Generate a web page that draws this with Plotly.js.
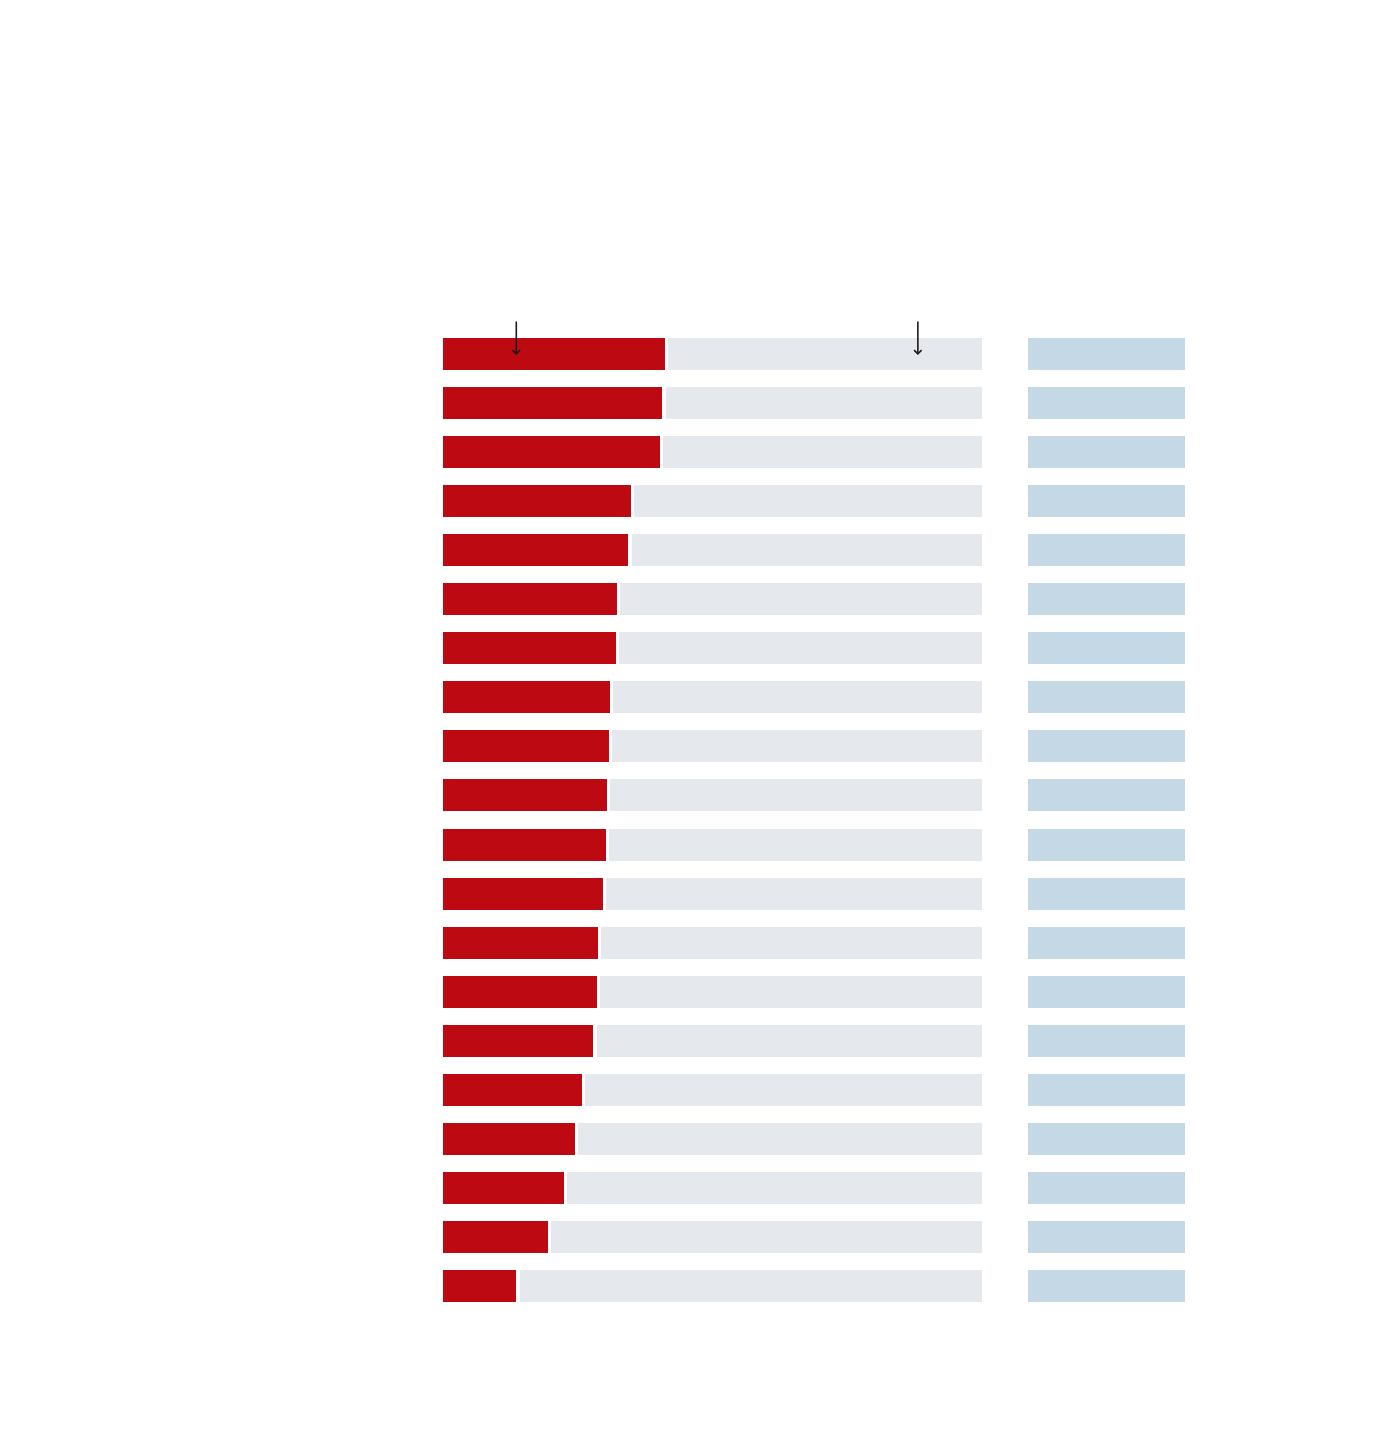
<!DOCTYPE html>
<html>
<head>
<meta charset="utf-8">
<script src="https://cdn.plot.ly/plotly-3.0.1.min.js"></script>
<style>
  html, body { margin: 0; padding: 0; background: #ffffff; }
  #chart { width: 1400px; height: 1450px; }
</style>
</head>
<body>
<div id="chart"></div>
<script>
// ---- data ----
const ranks = ["1","2","3","4","5","6","7","8","9","10","11","12","13","14","15","16","17","18","19","20"];
const shareValues = [41.1, 40.7, 40.3, 34.8, 34.4, 32.3, 32.1, 30.9, 30.8, 30.4,
                     30.2, 29.7, 28.8, 28.6, 27.9, 25.8, 24.4, 22.4, 19.4, 13.6];
const totalValue = 100;
const sideValues = [100,100,100,100,100,100,100,100,100,100,
                    100,100,100,100,100,100,100,100,100,100];
const arrowMarks = [13.6, 88.1];

// ---- styling ----
const RED = "#BD0912";
const GREY = "#E5E8EC";
const BLUE = "#C4D9E5";
const GAP = 0.6;          // gap between red and grey segment (axis units)
const BAR_W = 0.652;

const yPos = ranks.map((r, i) => i);

const traces = [
  {
    type: "bar", orientation: "h",
    y: yPos, x: shareValues, base: shareValues.map(() => 0),
    marker: { color: RED, line: { width: 0 } },
    width: BAR_W, hoverinfo: "skip", showlegend: false,
    xaxis: "x", yaxis: "y"
  },
  {
    type: "bar", orientation: "h",
    y: yPos,
    x: shareValues.map(v => totalValue - v - GAP),
    base: shareValues.map(v => v + GAP),
    marker: { color: GREY, line: { width: 0 } },
    width: BAR_W, hoverinfo: "skip", showlegend: false,
    xaxis: "x", yaxis: "y"
  },
  {
    type: "bar", orientation: "h",
    y: yPos, x: sideValues,
    marker: { color: BLUE, line: { width: 0 } },
    width: BAR_W, hoverinfo: "skip", showlegend: false,
    xaxis: "x2", yaxis: "y"
  }
];

const annotations = arrowMarks.map(v => ({
  x: v, y: 0.03, xref: "x", yref: "y",
  text: "", showarrow: true,
  ax: 0, ay: -35, axref: "pixel", ayref: "pixel",
  arrowhead: 4, arrowsize: 0.9, arrowwidth: 1.6, arrowcolor: "#1a1a1a",
  standoff: 0, startstandoff: 0
}));

const layout = {
  width: 1400, height: 1450,
  paper_bgcolor: "#ffffff", plot_bgcolor: "#ffffff",
  margin: { l: 443, r: 215, t: 329, b: 139, pad: 0 },
  barmode: "overlay",
  bargap: 0,
  xaxis: {
    domain: [0, 539/742], range: [0, 100],
    showgrid: false, zeroline: false, showticklabels: false, showline: false, ticks: "",
    fixedrange: true
  },
  xaxis2: {
    domain: [585/742, 1], range: [0, 100], anchor: "y",
    showgrid: false, zeroline: false, showticklabels: false, showline: false, ticks: "",
    fixedrange: true
  },
  yaxis: {
    range: [ranks.length - 0.5, -0.5],
    tickvals: yPos, ticktext: ranks,
    showgrid: false, zeroline: false, showticklabels: false, showline: false, ticks: "",
    fixedrange: true
  },
  annotations: annotations,
  font: { family: "Liberation Sans, Arial, sans-serif" }
};

Plotly.newPlot("chart", traces, layout, { displayModeBar: false, staticPlot: true });
</script>
</body>
</html>
